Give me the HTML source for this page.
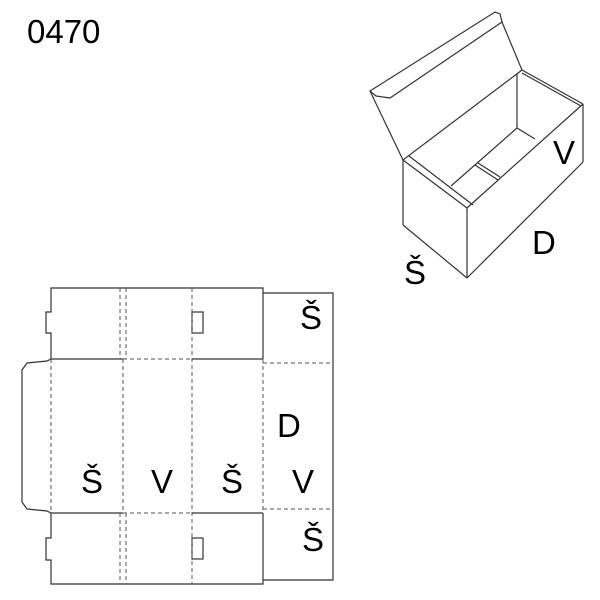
<!DOCTYPE html>
<html><head><style>html,body{margin:0;padding:0;background:#fff}svg{display:block}</style></head>
<body>
<svg width="600" height="600" viewBox="0 0 600 600" xmlns="http://www.w3.org/2000/svg">
<g font-family="Liberation Sans, DejaVu Sans, sans-serif" fill="#000">
<text x="27" y="43" font-size="33">0470</text>
</g>
<g fill="none" stroke="#333" stroke-width="1.2">
<!-- 3D box -->
<polygon points="370,91 495,12 500,14 502,22 522,70 403,160"/>
<polyline points="370,91 376,96 390,98 502,22"/>
<line x1="403" y1="160" x2="403" y2="225"/>
<line x1="403" y1="225" x2="467" y2="278"/>
<line x1="467" y1="278" x2="467" y2="208"/>
<line x1="403" y1="160" x2="467" y2="208"/>
<line x1="467" y1="278" x2="583" y2="162"/>
<line x1="583" y1="162" x2="583" y2="104"/>
<line x1="467" y1="208" x2="583" y2="104"/>
<line x1="522" y1="70" x2="583" y2="104"/>
<line x1="409" y1="156" x2="473" y2="205"/>
<line x1="522" y1="73" x2="581" y2="106"/>
<line x1="517" y1="74" x2="517" y2="128"/>
<line x1="517" y1="128" x2="451" y2="186"/>
<line x1="517" y1="128" x2="535" y2="139"/>
<line x1="475" y1="165" x2="498" y2="180"/>
<line x1="478" y1="163" x2="500" y2="177"/>
<!-- net -->
<path d="M51,359 L51,333 L46,333 L46,312 L51,312 L51,288 L263,288 L263,359"/>
<path d="M51,513 L51,538 L46,538 L46,560 L51,560 L51,584 L263,584 L263,513"/>
<polyline points="51,359 47,361 27,363 22,370 22,502 27,509 47,511 51,513"/>
<line x1="51" y1="359" x2="123" y2="359"/>
<line x1="192" y1="359" x2="263" y2="359"/>
<line x1="51" y1="513" x2="123" y2="513"/>
<line x1="192" y1="513" x2="263" y2="513"/>
<polyline points="263,293 333,293 333,580 263,580"/>
<rect x="192" y="312" width="11" height="21"/>
<rect x="192" y="538" width="11" height="21"/>
</g>
<g fill="none" stroke="#555" stroke-width="1" stroke-dasharray="4,3">
<line x1="51" y1="359" x2="51" y2="513"/>
<line x1="120" y1="288" x2="120" y2="359"/>
<line x1="126" y1="288" x2="126" y2="359"/>
<line x1="120" y1="513" x2="120" y2="584"/>
<line x1="126" y1="513" x2="126" y2="584"/>
<line x1="123" y1="359" x2="123" y2="513"/>
<line x1="192" y1="288" x2="192" y2="584"/>
<line x1="263" y1="359" x2="263" y2="513"/>
<line x1="123" y1="359" x2="192" y2="359"/>
<line x1="123" y1="513" x2="192" y2="513"/>
<line x1="263" y1="363" x2="333" y2="363"/>
<line x1="263" y1="509" x2="333" y2="509"/>
</g>
<g font-family="Liberation Sans, DejaVu Sans, sans-serif" font-size="33" fill="#000">
<text x="553" y="164">V</text>
<text x="532" y="254">D</text>
<text x="404" y="284">Š</text>
<text x="300" y="329">Š</text>
<text x="277" y="437">D</text>
<text x="292" y="493">V</text>
<text x="302" y="551">Š</text>
<text x="81" y="493">Š</text>
<text x="151" y="493">V</text>
<text x="221" y="493">Š</text>
</g>
</svg>
</body></html>
